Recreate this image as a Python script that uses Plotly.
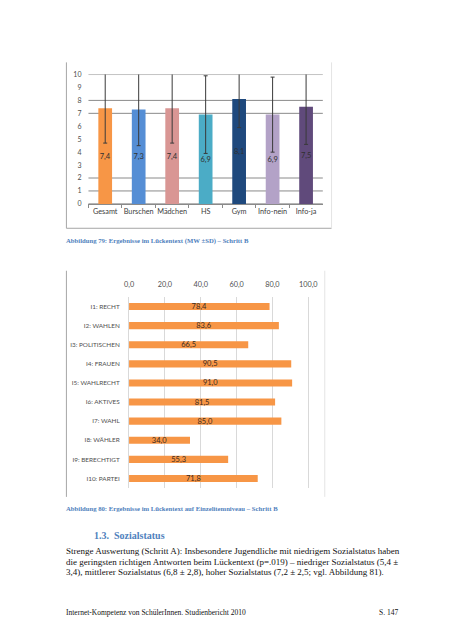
import plotly.graph_objects as go

W, H = 452, 640

# ---- chart 1 data ----
CATS1 = ["Gesamt", "Burschen", "Mädchen", "HS", "Gym", "Info-nein", "Info-ja"]
MEANS1 = [7.4, 7.3, 7.4, 6.9, 8.1, 6.9, 7.5]
SD1 = [2.7, 2.8, 2.7, 3.0, 2.2, 2.9, 2.9]
COLORS1 = ["#F79646", "#558ED5", "#D99694", "#4BACC6", "#1F497D", "#B3A2C7", "#604A7B"]
YTICKS1 = [0, 1, 2, 3, 4, 5, 6, 7, 8, 9, 10]
GRID1 = [0, 1, 2, 7, 8, 10]

# ---- chart 2 data ----
ITEMS2 = ["I1: RECHT", "I2: WAHLEN", "I3: POLITISCHEN", "I4: FRAUEN", "I5: WAHLRECHT",
          "I6: AKTIVES", "I7: WAHL", "I8: WÄHLER", "I9: BERECHTIGT", "I10: PARTEI"]
VALUES2 = [78.4, 83.6, 66.5, 90.5, 91.0, 81.5, 85.0, 34.0, 55.3, 71.8]
XTICKS2 = [0, 20, 40, 60, 80, 100]

CAPTION1 = "Abbildung 79: Ergebnisse im Lückentext (MW ±SD) – Schritt B"
CAPTION2 = "Abbildung 80: Ergebnisse im Lückentext auf Einzelitemniveau – Schritt B"
HEADING = "1.3.  Sozialstatus"
BODY = [
    "Strenge Auswertung (Schritt A): Insbesondere Jugendliche mit niedrigem Sozialstatus haben",
    "die geringsten richtigen Antworten beim Lückentext (p=.019) – niedriger Sozialstatus (5,4 ±",
    "3,4), mittlerer Sozialstatus (6,8 ± 2,8), hoher Sozialstatus (7,2 ± 2,5; vgl. Abbildung 81).",
]
FOOTER_L = "Internet-Kompetenz von SchülerInnen. Studienbericht 2010"
FOOTER_R = "S. 147"


def px(x):
    return x / W


def py(y):
    return 1 - y / H


SANS = "Lato, Liberation Sans, sans-serif"
SERIF = "Liberation Serif, Times New Roman, serif"

fig = go.Figure()

fig.add_trace(go.Bar(
    x=CATS1, y=MEANS1, marker=dict(color=COLORS1, line=dict(width=0)), width=0.41,
    error_y=dict(type="data", array=SD1, color="#3a3a3a", thickness=1, width=2),
    texttemplate="%{y:.1f}", textposition="inside", insidetextanchor="middle",
    constraintext="none", textangle=0,
    insidetextfont=dict(family=SANS, size=7.5, color="#303030"),
    xaxis="x", yaxis="y", hoverinfo="skip",
))

fig.add_trace(go.Bar(
    y=ITEMS2, x=VALUES2, orientation="h", marker=dict(color="#F79646", line=dict(width=0)),
    width=0.37, texttemplate="%{x:.1f}", textposition="inside", insidetextanchor="middle",
    constraintext="none", textangle=0,
    insidetextfont=dict(family=SANS, size=7.5, color="#3a2a20"),
    xaxis="x2", yaxis="y2", hoverinfo="skip",
))

shapes = []
for g in GRID1:
    shapes.append(dict(type="line", xref="x domain", yref="y", x0=0, x1=1, y0=g, y1=g,
                       line=dict(color="#8a8a8a", width=1), layer="below"))

# frames
frame_dark = "#a6a6a6"
frame_light = "#e4e4e4"
shapes += [
    dict(type="line", xref="paper", yref="paper", x0=px(55), x1=px(55), y0=py(50), y1=py(218),
         line=dict(color=frame_dark, width=1)),
    dict(type="line", xref="paper", yref="paper", x0=px(55), x1=px(328), y0=py(218), y1=py(218),
         line=dict(color=frame_dark, width=1)),
    dict(type="line", xref="paper", yref="paper", x0=px(328), x1=px(328), y0=py(50), y1=py(218),
         line=dict(color=frame_light, width=1)),
    dict(type="line", xref="paper", yref="paper", x0=px(55), x1=px(55), y0=py(261), y1=py(490),
         line=dict(color=frame_dark, width=1)),
    dict(type="line", xref="paper", yref="paper", x0=px(321), x1=px(321), y0=py(261), y1=py(490),
         line=dict(color=frame_light, width=1)),
]

ann = []
ann.append(dict(text=CAPTION1, x=px(53), y=py(231), xref="paper", yref="paper",
                xanchor="left", yanchor="middle", showarrow=False,
                font=dict(family=SERIF, size=6.7, color="#4F81BD", weight="bold")))
ann.append(dict(text=CAPTION2, x=px(53), y=py(502), xref="paper", yref="paper",
                xanchor="left", yanchor="middle", showarrow=False,
                font=dict(family=SERIF, size=6.7, color="#4F81BD", weight="bold")))
ann.append(dict(text=HEADING, x=px(81), y=py(529.5), xref="paper", yref="paper",
                xanchor="left", yanchor="middle", showarrow=False,
                font=dict(family=SERIF, size=10, color="#4F81BD", weight="bold")))
for i, line in enumerate(BODY):
    ann.append(dict(text=line, x=px(53), y=py(545 + i * 10.5), xref="paper", yref="paper",
                    xanchor="left", yanchor="middle", showarrow=False,
                    font=dict(family=SERIF, size=9, color="#111111")))
ann.append(dict(text=FOOTER_L, x=px(53), y=py(607), xref="paper", yref="paper",
                xanchor="left", yanchor="middle", showarrow=False,
                font=dict(family=SERIF, size=7.5, color="#111111")))
ann.append(dict(text=FOOTER_R, x=px(398), y=py(607), xref="paper", yref="paper",
                xanchor="right", yanchor="middle", showarrow=False,
                font=dict(family=SERIF, size=7.5, color="#111111")))

fig.update_layout(
    width=W, height=H, margin=dict(l=0, r=0, t=0, b=0),
    paper_bgcolor="white", plot_bgcolor="white", showlegend=False,
    separators=",.",
    shapes=shapes, annotations=ann,
    xaxis=dict(domain=[px(77.7), px(319)], showgrid=False, showline=True, linecolor="#8a8a8a",
               ticks="outside", tickson="boundaries", ticklen=3, tickcolor="#8a8a8a",
               tickangle=0,
               tickfont=dict(family=SANS, size=7.3, color="#404040"), fixedrange=True),
    yaxis=dict(domain=[py(193.3), py(62.3)], range=[0, 10], tickvals=YTICKS1, showgrid=False,
               zeroline=False, showline=False, ticks="", ticklabelstandoff=6,
               tickfont=dict(family=SANS, size=7, color="#505050"), fixedrange=True),
    xaxis2=dict(domain=[px(119.5), px(119.5 + 101 * 1.845)], range=[0, 101], side="top",
                anchor="y2", tickvals=XTICKS2, tickformat=".1f", showgrid=True,
                gridcolor="#d9d9d9", zeroline=False, showline=False, ticks="",
                ticklabelstandoff=8, tickangle=0,
                tickfont=dict(family=SANS, size=7.3, color="#505050"), fixedrange=True),
    yaxis2=dict(domain=[py(481), py(287.6)], anchor="x2", autorange="reversed",
                showgrid=False, showline=True, linecolor="#d9d9d9", ticks="",
                ticklabelstandoff=7,
                tickfont=dict(family=SANS, size=6.4, color="#505050"), fixedrange=True),
)

fig.write_html("out.html")
